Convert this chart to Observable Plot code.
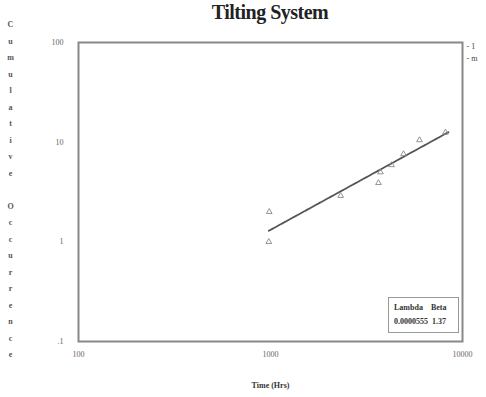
<!DOCTYPE html>
<html>
<head>
<meta charset="utf-8">
<script src="https://cdn.jsdelivr.net/npm/d3@7"></script>
<script src="https://cdn.jsdelivr.net/npm/@observablehq/plot@0.6"></script>
<style>
  html, body { margin: 0; padding: 0; background: #fff; }
  #wrap { position: relative; width: 486px; height: 397px; overflow: hidden; }
  #title { position: absolute; left: 78px; top: 1px; width: 384px; text-align: center;
    font-family: "Liberation Serif", serif; font-weight: bold; font-size: 20px; color: #222; letter-spacing: -0.5px; }
  #box { position: absolute; left: 388px; top: 297px; width: 69px; height: 34px; border: 1.5px solid #999;
    font-family: "Liberation Serif", serif; font-weight: bold; font-size: 8px; color: #333; background: #fff; }
  #box div { position: absolute; left: 5px; white-space: pre; }
</style>
</head>
<body>
<div id="wrap">
  <div id="chart"></div>
  <div id="title">Tilting System</div>
  <div id="box"><div style="top:5px">Lambda    Beta</div><div style="top:19px">0.0000555  1.37</div></div>
</div>
<script>
const timeHrs = [980, 985, 2320, 3650, 3740, 4270, 4930, 5970, 8150];
const cumOcc = [1, 2, 2.9, 3.9, 5, 5.9, 7.6, 10.5, 12.5];
const fitTime = [980, 8450];
const fitOcc = [1.29, 12.6];
const xTicks = [100, 1000, 10000];
const yTicks = [0.1, 1, 10, 100];
const yTickLabels = [".1", "1", "10", "100"];
const xLabel = "Time (Hrs)";
const yLabel = "Cumulative Occurrence";
const sideLegend = ["- 1", "- m"];

const points = timeHrs.map((t, i) => ({t, n: cumOcc[i]}));
const fit = fitTime.map((t, i) => ({t, n: fitOcc[i]}));

const chart = Plot.plot({
  width: 486,
  height: 397,
  marginLeft: 78,
  marginRight: 24,
  marginTop: 42,
  marginBottom: 56,
  style: {fontFamily: "Liberation Serif, serif", fontSize: "8px", color: "#555", background: "transparent"},
  x: {type: "log", domain: [100, 10000]},
  y: {type: "log", domain: [0.1, 100]},
  marks: [
    Plot.frame({stroke: "#888", strokeWidth: 2}),
    Plot.axisX({ticks: xTicks, tickFormat: d => String(d), tickSize: 0, tickPadding: 10, fontSize: 8, fill: "#666",
      label: xLabel, labelAnchor: "center", labelOffset: 46, labelArrow: "none"}),
    Plot.axisY({ticks: yTicks, tickFormat: d => yTickLabels[yTicks.indexOf(d)], tickSize: 0, tickPadding: 15, fontSize: 8, fill: "#666", label: null}),
    Plot.text([yLabel.split("").map(c => c === " " ? "\u00a0" : c).join("\n")], {
      frameAnchor: "left", dx: -68, dy: -5, lineHeight: 2.06, fontSize: 8, fontWeight: "bold", fill: "#555", textAnchor: "middle"
    }),
    Plot.text([sideLegend.join("\n")], {
      frameAnchor: "top-right", dx: 4, dy: -1, textAnchor: "start", lineAnchor: "top", lineHeight: 1.4, fontSize: 8, fill: "#444"
    }),
    Plot.line(fit, {x: "t", y: "n", stroke: "#555", strokeWidth: 1.8, strokeDasharray: "2,1"}),
    Plot.dot(points, {x: "t", y: "n", symbol: "triangle", r: 2.1, stroke: "#888", strokeWidth: 0.9, fill: "none"})
  ]
});
document.getElementById("chart").appendChild(chart);
chart.querySelectorAll("[aria-label='x-axis label'] text").forEach(t => { t.setAttribute("font-weight", "bold"); t.setAttribute("fill", "#333"); });
</script>
</body>
</html>
